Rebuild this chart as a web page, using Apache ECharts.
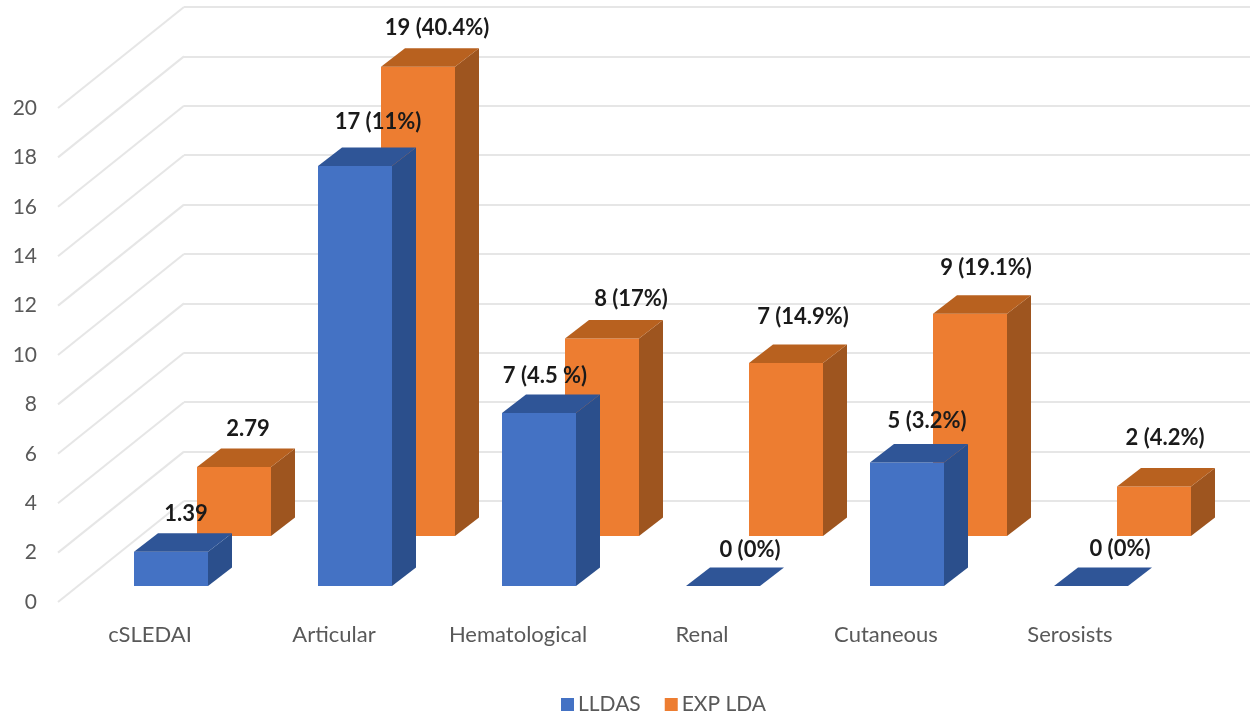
<!DOCTYPE html>
<html>
<head>
<meta charset="utf-8">
<style>html,body{margin:0;padding:0;background:#fff}#chart{width:1250px;height:717px}</style>
<script src="https://cdn.jsdelivr.net/npm/echarts@6/dist/echarts.min.js"></script>
</head>
<body>
<div id="chart"></div>
<script>
// Disease domains along the horizontal axis
const categories = ['cSLEDAI', 'Articular', 'Hematological', 'Renal', 'Cutaneous', 'Serosists'];
const yTicks = [0, 2, 4, 6, 8, 10, 12, 14, 16, 18, 20];

const lldasValues = [1.39, 17, 7, 0, 5, 0];
const expLdaValues = [2.79, 19, 8, 7, 9, 2];
const lldasLabels = ['1.39', '17 (11%)', '7 (4.5 %)', '0 (0%)', '5 (3.2%)', '0 (0%)'];
const expLdaLabels = ['2.79', '19 (40.4%)', '8 (17%)', '7 (14.9%)', '9 (19.1%)', '2 (4.2%)'];

// Oblique projection: pixels per unit of depth on the wall diagonal
const WALL_DX = 126, WALL_DY = 101;
const BAR_W = 74;
const BAR_DX = 24, BAR_DY = 18.5;

// Per-label nudges from the top-front centre of each bar
const lldasNudge = [[15, -38], [23, -44], [6, -37], [27, -36], [20, -42], [29, -37]];
const expLdaNudge = [[14, -38], [19, -39], [29, -39], [17, -46], [16, -46], [11, -49]];

const textFont = 'Lato, "Open Sans", sans-serif';

function cuboidSeries(name, values, labels, nudges, depth, colors, z) {
  return {
    type: 'custom',
    name,
    xAxisIndex: 0,
    yAxisIndex: 0,
    z,
    itemStyle: { color: colors.front },
    data: values.map((v, i) => [i, v]),
    encode: { x: 0, y: 1 },
    renderItem(params, api) {
      const i = api.value(0);
      const top = api.coord([i, api.value(1)]);
      const base = api.coord([i, 0]);
      // Slide the front face back into the scene along the floor diagonal
      const cx = top[0] + depth.dx;
      const x0 = cx - BAR_W / 2, x1 = cx + BAR_W / 2;
      const yT = top[1] - depth.dy, yB = base[1] - depth.dy;
      const children = [];
      children.push({
        type: 'polygon',
        shape: { points: [[x1, yT], [x1 + BAR_DX, yT - BAR_DY], [x1 + BAR_DX, yB - BAR_DY], [x1, yB]] },
        style: { fill: colors.side }
      });
      if (yB > yT) {
        children.push({
          type: 'rect',
          shape: { x: x0, y: yT, width: BAR_W, height: yB - yT },
          style: { fill: colors.front }
        });
      }
      children.push({
        type: 'polygon',
        shape: { points: [[x0, yT], [x0 + BAR_DX, yT - BAR_DY], [x1 + BAR_DX, yT - BAR_DY], [x1, yT]] },
        style: { fill: colors.top }
      });
      const n = nudges[i];
      children.push({
        type: 'text',
        z2: 100,
        style: {
          x: cx + n[0],
          y: yT + n[1],
          text: labels[i],
          fill: '#1a1a1a',
          font: 'bold 22px ' + textFont,
          align: 'center',
          verticalAlign: 'middle'
        }
      });
      return { type: 'group', children };
    }
  };
}

const option = {
  animation: false,
  backgroundColor: '#fff',
  legend: {
    top: 694,
    left: 561,
    icon: 'rect',
    itemWidth: 13,
    itemHeight: 13,
    itemGap: 24,
    padding: 0,
    data: ['LLDAS', 'EXP LDA'],
    textStyle: { color: '#595959', fontSize: 21, fontFamily: textFont, padding: [0, 0, 0, -1] }
  },
  grid: [
    // Front plane: carries the tick labels and the bar scale
    { left: 58, right: 88, top: 108, height: 494 },
    // Back wall: carries the horizontal gridlines
    { left: 184, right: 0, top: 7, height: 494 }
  ],
  xAxis: [
    {
      type: 'category', gridIndex: 0, data: categories,
      axisLine: { show: false }, axisTick: { show: false },
      axisLabel: { color: '#595959', fontSize: 22, fontFamily: textFont, margin: 22 }
    },
    {
      type: 'category', gridIndex: 1, data: categories, show: false
    }
  ],
  yAxis: [
    {
      type: 'value', gridIndex: 0, min: 0, max: 20, interval: 2,
      axisLine: { show: false }, axisTick: { show: false }, splitLine: { show: false },
      axisLabel: { color: '#595959', fontSize: 21, fontFamily: textFont, margin: 21, padding: [3, 0, 0, 0], hideOverlap: false }
    },
    {
      type: 'value', gridIndex: 1, min: 0, max: 20, interval: 2,
      axisLine: { show: false }, axisTick: { show: false }, axisLabel: { show: false },
      splitLine: { show: true, lineStyle: { color: '#e6e6e6', width: 2 } }
    }
  ],
  series: [
    {
      // Side-wall diagonals joining each tick to its back-wall gridline
      type: 'custom',
      xAxisIndex: 0,
      yAxisIndex: 0,
      z: 1,
      silent: true,
      data: yTicks.map(v => [0, v]),
      encode: { x: 0, y: 1 },
      renderItem(params, api) {
        const p = api.coord([0, api.value(1)]);
        const x = params.coordSys.x;
        return {
          type: 'line',
          shape: { x1: x, y1: p[1], x2: x + WALL_DX, y2: p[1] - WALL_DY },
          style: { stroke: '#e6e6e6', lineWidth: 2, fill: null }
        };
      }
    },
    cuboidSeries('EXP LDA', expLdaValues, expLdaLabels, expLdaNudge, { dx: 84, dy: 66 },
      { front: '#ED7D31', top: '#B8611F', side: '#9E551F' }, 3),
    cuboidSeries('LLDAS', lldasValues, lldasLabels, lldasNudge, { dx: 21, dy: 16 },
      { front: '#4472C4', top: '#2F5597', side: '#2B4F8C' }, 4)
  ]
};

const chart = echarts.init(document.getElementById('chart'), null, { renderer: 'canvas' });
chart.setOption(option);
</script>
</body>
</html>
